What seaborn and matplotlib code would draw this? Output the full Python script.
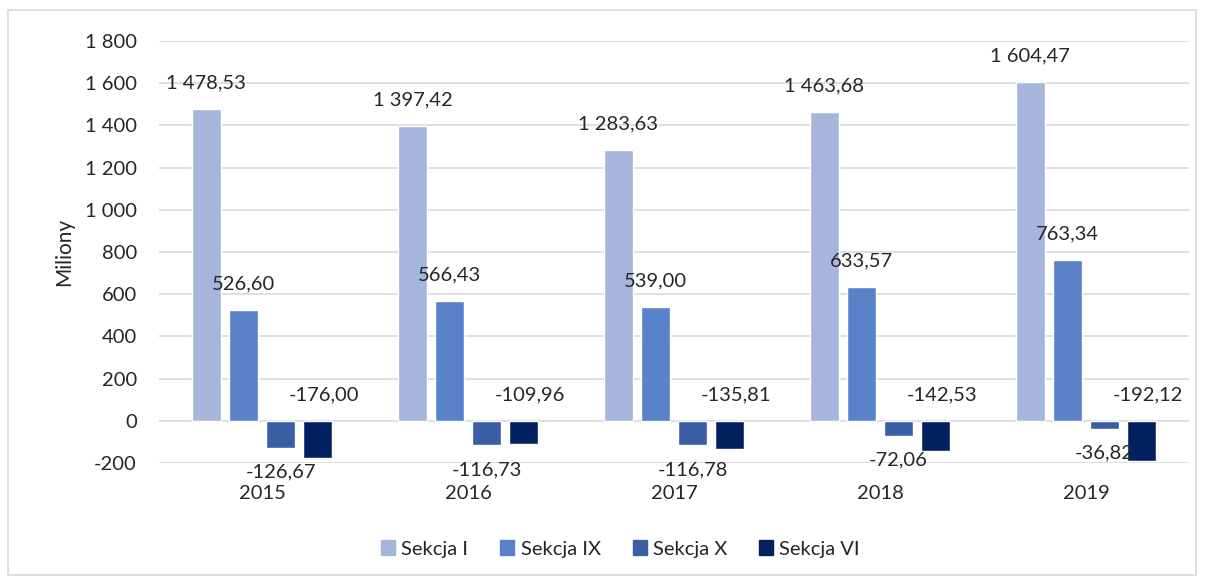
import pandas as pd
import matplotlib.pyplot as plt
import matplotlib.patches as mpatches
import seaborn as sns

sns.set_style("white")
plt.rcParams['font.family'] = ['Lato', 'DejaVu Sans']

# data
years = ['2015', '2016', '2017', '2018', '2019']
series = ['Sekcja I', 'Sekcja IX', 'Sekcja X', 'Sekcja VI']
sekcja_i = [1478.53, 1397.42, 1283.63, 1463.68, 1604.47]
sekcja_ix = [526.60, 566.43, 539.00, 633.57, 763.34]
sekcja_x = [-126.67, -116.73, -116.78, -72.06, -36.82]
sekcja_vi = [-176.00, -109.96, -135.81, -142.53, -192.12]
colors = ['#A6B5DB', '#5A82C9', '#3A5FA5', '#03215F']

rows = []
for name, vals in zip(series, [sekcja_i, sekcja_ix, sekcja_x, sekcja_vi]):
    for y, v in zip(years, vals):
        rows.append({'Rok': y, 'Seria': name, 'Wartosc': v})
df = pd.DataFrame(rows)


def fmt(v):
    s = f"{abs(v):,.2f}".replace(',', ' ').replace('.', ',')
    return ('-' if v < 0 else '') + s


FS = 14.5

fig = plt.figure(figsize=(12.05, 5.79), dpi=100)
ax = fig.add_axes([0.132, 0.2003, 0.8547, 0.7287])

sns.barplot(data=df, x='Rok', y='Wartosc', hue='Seria', hue_order=series,
            palette=colors, width=0.72, gap=0.2, ax=ax, legend=False,
            saturation=1, errorbar=None)

ax.set_ylim(-200, 1800)
ax.set_yticks(range(-200, 1801, 200))
ax.set_yticklabels([f"{t:,}".replace(',', ' ') for t in range(-200, 1801, 200)])
ax.set_xlim(-0.5, 4.5)
ax.grid(axis='y', color='#D9D9D9', linewidth=1.2)
ax.set_axisbelow(True)
for sp in ax.spines.values():
    sp.set_visible(False)
ax.tick_params(axis='y', length=0, pad=16, labelsize=FS)
ax.tick_params(axis='x', length=0, pad=16, labelsize=FS)
ax.set_xlabel('')
ax.set_ylabel('Miliony', fontsize=FS + 0.5, labelpad=8)

# data labels
for container, name in zip(ax.containers, series):
    for bar in container:
        v = bar.get_height()
        cx = bar.get_x() + bar.get_width() / 2
        if name == 'Sekcja VI':
            ax.annotate(fmt(v), (cx, 0), xytext=(6, 26), textcoords='offset pixels',
                        ha='center', va='center', fontsize=FS)
        elif v >= 0:
            ax.annotate(fmt(v), (cx, v), xytext=(0, 26), textcoords='offset pixels',
                        ha='center', va='center', fontsize=FS)
        else:
            ax.annotate(fmt(v), (cx, v), xytext=(0, -24), textcoords='offset pixels',
                        ha='center', va='center', fontsize=FS)

handles = [mpatches.Patch(color=c, label=s) for c, s in zip(colors, series)]
fig.legend(handles=handles, loc='center', bbox_to_anchor=(0.515, 1 - 549 / 579),
           ncol=4, frameon=False, fontsize=FS, handlelength=0.7, handleheight=0.7,
           handletextpad=0.3, columnspacing=1.6)

fig.patches.append(mpatches.Rectangle((8 / 1205, 4 / 579), 1188 / 1205, 565 / 579,
                                      transform=fig.transFigure, fill=False,
                                      edgecolor='#D9D9D9', linewidth=1.2))

fig.savefig('out.png', dpi=100)
